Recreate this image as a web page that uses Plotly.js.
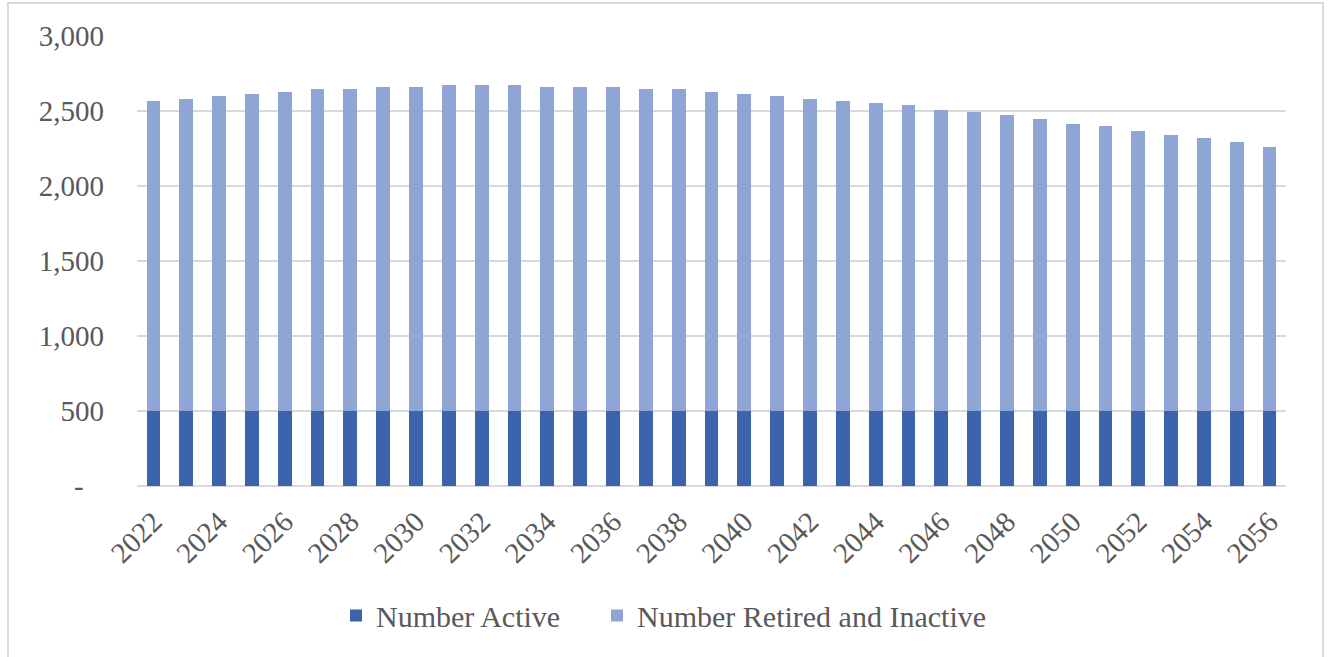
<!DOCTYPE html>
<html>
<head>
<meta charset="utf-8">
<script src="https://cdn.plot.ly/plotly-3.0.1.min.js"></script>
<style>
  html, body { margin: 0; padding: 0; background: #fff; }
  #wrap { position: relative; width: 1330px; height: 657px; overflow: hidden; }
  #chart { width: 1330px; height: 657px; }
  #frame { position: absolute; left: 7px; top: 2px; width: 1317px; height: 700px;
           border: 2px solid #d9d9d9; box-sizing: border-box; pointer-events: none; }
</style>
</head>
<body>
<div id="wrap">
  <div id="chart"></div>
  <div id="frame"></div>
</div>
<script>
const years = ['2022','2023','2024','2025','2026','2027','2028','2029','2030','2031',
  '2032','2033','2034','2035','2036','2037','2038','2039','2040','2041',
  '2042','2043','2044','2045','2046','2047','2048','2049','2050','2051',
  '2052','2053','2054','2055','2056'];
const numberActive = [500,500,500,500,500,500,500,500,500,500,
  500,500,500,500,500,500,500,500,500,500,
  500,500,500,500,500,500,500,500,500,500,
  500,500,500,500,500];
const totalMembers = [2566,2582,2598,2613,2629,2644,2644,2660,2660,2676,
  2676,2676,2660,2660,2660,2644,2644,2629,2613,2598,
  2582,2567,2551,2538,2507,2491,2476,2444,2416,2398,
  2369,2338,2322,2293,2262];
const numberRetiredInactive = totalMembers.map((t, i) => t - numberActive[i]);
const yTickVals = [0,500,1000,1500,2000,2500,3000];
const yTickText = ['-\u00a0\u00a0\u2009','500','1,000','1,500','2,000','2,500','3,000'];
const xTickVals = years.filter((y, i) => i % 2 === 0);

const fontFamily = '"Liberation Serif", "Times New Roman", serif';
const textColor = '#595959';

const traces = [
  { type: 'bar', name: 'Number Active', x: years, y: numberActive,
    marker: { color: '#3B64AD' }, hoverinfo: 'x+y+name', legend: 'legend' },
  { type: 'bar', name: 'Number Retired and Inactive', x: years, y: numberRetiredInactive,
    marker: { color: '#8FA5D5' }, hoverinfo: 'x+y+name', legend: 'legend2' }
];

const legendFont = { family: fontFamily, size: 30, color: textColor };
const layout = {
  width: 1330, height: 657,
  margin: { l: 137, r: 44, t: 36, b: 171 },
  paper_bgcolor: '#ffffff', plot_bgcolor: '#ffffff',
  barmode: 'stack', bargap: 0.58,
  font: { family: fontFamily, size: 29, color: textColor },
  showlegend: true,
  legend: { orientation: 'h', xref: 'container', yref: 'container',
            x: 336 / 1330, xanchor: 'left', y: 0.063, yanchor: 'middle',
            font: legendFont },
  legend2: { orientation: 'h', xref: 'container', yref: 'container',
            x: 597 / 1330, xanchor: 'left', y: 0.063, yanchor: 'middle',
            font: legendFont },
  xaxis: { type: 'category', tickmode: 'array', tickvals: xTickVals, ticktext: xTickVals,
           tickangle: -45, showgrid: false, zeroline: false, showline: false,
           ticks: '', ticklabelstandoff: 12, range: [-0.5, 34.5],
           tickfont: { family: fontFamily, size: 29, color: textColor } },
  yaxis: { range: [0, 3000], tickmode: 'array', tickvals: yTickVals, ticktext: yTickText,
           showgrid: true, gridcolor: '#d9d9d9', gridwidth: 1.5,
           zeroline: true, zerolinecolor: '#d9d9d9', zerolinewidth: 1.5,
           showline: false, ticks: '', ticklabelstandoff: 32,
           tickfont: { family: fontFamily, size: 29, color: textColor } }
};

Plotly.newPlot('chart', traces, layout, { staticPlot: true, displayModeBar: false });
</script>
</body>
</html>
